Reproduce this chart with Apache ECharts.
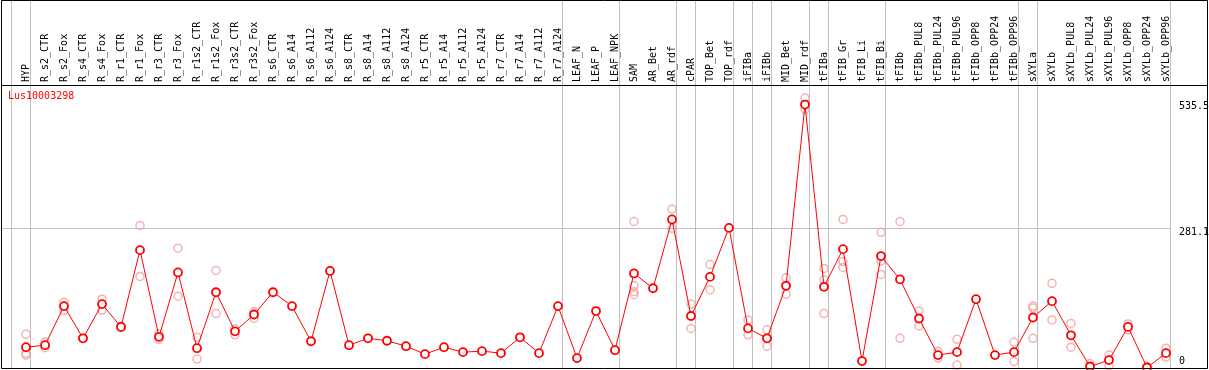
<!DOCTYPE html>
<html>
<head>
<meta charset="utf-8">
<script src="https://cdn.jsdelivr.net/npm/echarts@6/dist/echarts.min.js"></script>
<style>html,body{margin:0;padding:0;background:#fff}#c{width:1209px;height:370px}</style>
</head>
<body>
<div id="c"></div>
<script>
var categories = ['HYP','R_s2_CTR','R_s2_Fox','R_s4_CTR','R_s4_Fox','R_r1_CTR','R_r1_Fox','R_r3_CTR','R_r3_Fox','R_r1s2_CTR','R_r1s2_Fox','R_r3s2_CTR','R_r3s2_Fox','R_s6_CTR','R_s6_A14','R_s6_A112','R_s6_A124','R_s8_CTR','R_s8_A14','R_s8_A112','R_s8_A124','R_r5_CTR','R_r5_A14','R_r5_A112','R_r5_A124','R_r7_CTR','R_r7_A14','R_r7_A112','R_r7_A124','LEAF_N','LEAF_P','LEAF_NPK','SAM','AR_Bet','AR_rdf','cPAR','TOP_Bet','TOP_rdf','iFIBa','iFIBb','MID_Bet','MID_rdf','tFIBa','tFIB_Gr','tFIB_Li','tFIB_Bi','tFIBb','tFIBb_PUL8','tFIBb_PUL24','tFIBb_PUL96','tFIBb_OPP8','tFIBb_OPP24','tFIBb_OPP96','sXYLa','sXYLb','sXYLb_PUL8','sXYLb_PUL24','sXYLb_PUL96','sXYLb_OPP8','sXYLb_OPP24','sXYLb_OPP96'];
var means = [41,45,124,59,128,82,237,62,192,39,152,73,107,152,124,53,195,45,59,54,43,27,41,31,33,29,61,29,124,19,114,35,190,160,299,104,183,282,79,59,165,531,163,239,13,225,178,99,25,31,138,25,31,101,134,65,2,15,82,0,29];
var replicates = [[67,29,25],[52,40],[132,115],[59],[138,116],[84,80],[287,184],[68,57],[241,144],[61,17],[196,109],[78,66],[113,99],[],[],[],[],[],[],[],[],[],[],[],[],[],[],[],[],[],[],[],[295,165,153,147],[],[320,281],[128,79],[208,157],[],[96,66],[76,43],[181,148],[544,521],[200,177,109],[299,214,202],[],[273,215,188],[295,59],[114,84],[33,19],[57,5],[],[],[51,12],[124,120,59],[170,96],[89,41],[8],[25,4],[88,76],[2],[39,21]];
var tickValues = [535.5, 281.1, 0];
var gridValues = [281.1];
var groupEnds = [-1,0,28,31,34,35,37,38,39,41,42,45,52,53,60];
var geneName = 'Lus10003298';

var FONT = 'DejaVu Sans Mono';
var repData = [];
replicates.forEach(function(arr, i){ arr.forEach(function(v){ repData.push([i, v]); }); });

var chart = echarts.init(document.getElementById('c'), null, {renderer:'canvas'});
chart.setOption({
  animation: false,
  title: {text: geneName, left: 8, top: 91, padding: 0,
    textStyle: {color: '#ff0000', fontFamily: FONT, fontSize: 10, fontWeight: 'normal'}},
  grid: {left: 16.5, right: 33.5, top: 85, bottom: 2.5, containLabel: false},
  xAxis: [{
    type: 'category', data: categories, position: 'top', boundaryGap: true,
    axisLine: {show: false}, axisTick: {show: false}, splitLine: {show: false},
    axisLabel: {rotate: 90, interval: 0, margin: 3, fontFamily: FONT, fontSize: 10, color: '#000'}
  }, {
    type: 'value', min: -0.5, max: 60.5, show: false
  }],
  yAxis: {type: 'value', min: 0, max: 570.5, show: false},
  series: [{
    type: 'scatter', data: repData, symbol: 'circle', symbolSize: 8, z: 2,
    itemStyle: {color: 'rgba(0,0,0,0)', borderColor: '#f0a0a0', borderWidth: 1.5}
  }, {
    type: 'line', data: means, symbol: 'circle', symbolSize: 8, showAllSymbol: true, z: 3,
    lineStyle: {color: '#ff0000', width: 1},
    itemStyle: {color: '#ffffff', borderColor: '#ff0000', borderWidth: 1.8}
  }]
});

var g = [];
g.push({type: 'rect', shape: {x: 1.5, y: 0.5, width: 1206, height: 368}, style: {fill: 'none', stroke: '#000', lineWidth: 1}, z: 10});
g.push({type: 'line', shape: {x1: 1, y1: 85.5, x2: 1207, y2: 85.5}, style: {stroke: '#000', lineWidth: 1}, z: 10});
groupEnds.forEach(function(b){
  var x = Math.round(chart.convertToPixel({xAxisIndex: 1}, b + 4.5/19) - 0.5) + 0.5;
  g.push({type: 'line', shape: {x1: x, y1: 0, x2: x, y2: 369}, style: {stroke: '#c0c0c0', lineWidth: 1}, z: 0});
});
gridValues.forEach(function(v){
  var y = Math.round(chart.convertToPixel({yAxisIndex: 0}, v) - 0.5) + 0.5;
  g.push({type: 'line', shape: {x1: 1, y1: y, x2: 1170, y2: y}, style: {stroke: '#c0c0c0', lineWidth: 1}, z: 0});
});
tickValues.forEach(function(v){
  var y = chart.convertToPixel({yAxisIndex: 0}, v);
  var top = Math.min(y - 0.5, 356);
  g.push({type: 'text', x: 1179, y: top, style: {text: String(v), fill: '#000', font: '10px "' + FONT + '"', textAlign: 'left', textVerticalAlign: 'top'}, z: 10});
});
chart.setOption({graphic: g});
</script>
</body>
</html>
